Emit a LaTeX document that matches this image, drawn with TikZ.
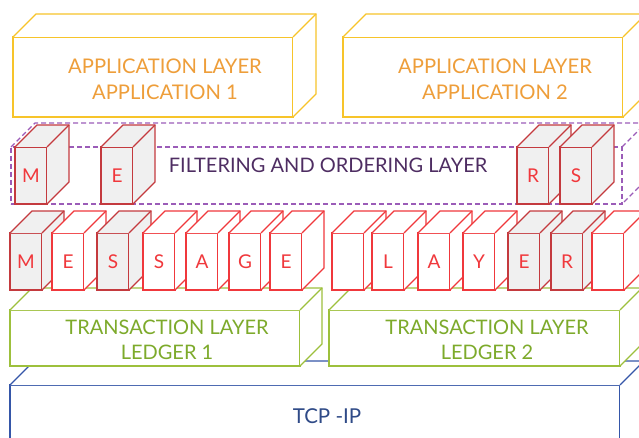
\documentclass[tikz,border=0pt]{standalone}
\usepackage{fontspec}
\setmainfont{Lato}
\usepackage{tikz}
\usetikzlibrary{positioning,shapes}
\usepackage{xcolor}

\definecolor{appline}{HTML}{F7C42A}
\definecolor{apptext}{HTML}{EE9E3A}
\definecolor{filterline}{HTML}{9B5CB8}
\definecolor{filtertext}{HTML}{4E2D62}
\definecolor{msgred}{HTML}{F0383C}
\definecolor{msgdark}{HTML}{C43A3E}
\definecolor{cubegray}{HTML}{F0F0F0}
\definecolor{transline}{HTML}{9DC03C}
\definecolor{transtext}{HTML}{7DAA2B}
\definecolor{tcpline}{HTML}{3556A8}
\definecolor{tcptext}{HTML}{2F4A87}

\tikzset{
  slab/.style={draw, fill=white, outer sep=0pt, inner sep=0pt, line width=1.2pt},
  appslab/.style={slab, draw=appline},
  transslab/.style={slab, draw=transline},
  tcpslab/.style={slab, draw=tcpline},
  filterslab/.style={slab, draw=filterline, fill=none, line width=1.3pt, dash pattern=on 5pt off 3pt},
  whitecube/.style={draw=msgred, fill=white, text=msgred, outer sep=0pt, inner sep=0pt,
    line width=1.2pt, minimum width=32pt, minimum height=57pt},
  graycube/.style={whitecube, draw=msgdark, fill=cubegray},
  label/.style={align=center, inner sep=0pt},
}

% front face as a named node, then top and side faces
\newcommand{\slabbox}[7]{% name, style, x, y, width, height, depth
  \node[#2, anchor=south west, minimum width=#5pt, minimum height=#6pt] (#1) at (#3,#4) {};
  \path[#2, draw=none] (#1.north west) -- ++(#7,#7) -- ++(#5,0) -- ++(0,-#6)
    -- (#1.south east) -- (#1.north east) -- cycle;
  \draw[#2, fill=none] (#1.north west) -- ++(#7,#7) -- ++(#5,0) -- ++(0,-#6) -- (#1.south east);
  \draw[#2, fill=none] (#1.north east) -- ++(#7,#7);
}
\newcommand{\msgcube}[5]{% name, style, x, y, letter
  \node[#2, anchor=south west, font=\fontsize{19}{19}\selectfont] (#1) at (#3,#4) {#5};
  \path[#2, draw=none] (#1.north west) -- ++(22,22) -- ++(32,0) -- ++(0,-57)
    -- (#1.south east) -- (#1.north east) -- cycle;
  \draw[#2, fill=none] (#1.north west) -- ++(22,22) -- ++(32,0) -- ++(0,-57) -- (#1.south east);
  \draw[#2, fill=none] (#1.north east) -- ++(22,22);
}

\begin{document}
\begin{tikzpicture}[x=1pt, y=1pt]
\useasboundingbox (0,0) rectangle (639,437);
\clip (0,0) rectangle (639,437);

% network
\slabbox{tcp}{tcpslab}{10}{-30}{610}{82}{24}
\node[label, text=tcptext, font=\fontsize{20.5}{24}\selectfont] (tcplabel) at (327,21) {TCP -IP};

% ledgers
\slabbox{ledger1}{transslab}{10}{71}{290}{56}{22}
\slabbox{ledger2}{transslab}{329}{71}{291}{56}{22}
\node[label, text=transtext, font=\fontsize{20}{25}\selectfont] (ledger1label) at (167,97.5) {TRANSACTION LAYER\\LEDGER 1};
\node[label, text=transtext, font=\fontsize{20}{25}\selectfont] (ledger2label) at (487,97.5) {TRANSACTION LAYER\\LEDGER 2};

% message stream
\msgcube{m1}{graycube}{10}{147}{M}
\msgcube{m2}{whitecube}{52}{147}{E}
\msgcube{m3}{graycube}{97}{147}{S}
\msgcube{m4}{whitecube}{143}{147}{S}
\msgcube{m5}{whitecube}{186}{147}{A}
\msgcube{m6}{whitecube}{229}{147}{G}
\msgcube{m7}{whitecube}{270}{147}{E}
\msgcube{m8}{whitecube}{332}{147}{}
\msgcube{m9}{whitecube}{372}{147}{L}
\msgcube{m10}{whitecube}{418}{147}{A}
\msgcube{m11}{whitecube}{463}{147}{Y}
\msgcube{m12}{graycube}{508}{147}{E}
\msgcube{m13}{graycube}{551}{147}{R}
\msgcube{m14}{whitecube}{592}{147}{}

% filtering
\slabbox{filter}{filterslab}{11}{233}{611}{57}{24}
\node[label, text=filtertext, font=\fontsize{20}{24}\selectfont] (filterlabel) at (328,272) {FILTERING AND ORDERING LAYER};
\msgcube{f1}{graycube}{15}{233}{M}
\msgcube{f2}{graycube}{101}{233}{E}
\msgcube{f3}{graycube}{517}{233}{R}
\msgcube{f4}{graycube}{560}{233}{S}

% applications
\slabbox{app1}{appslab}{13}{320}{280}{80}{23}
\slabbox{app2}{appslab}{343}{320}{280}{80}{23}
\node[label, text=apptext, font=\fontsize{20.2}{26}\selectfont] (app1label) at (165,358) {APPLICATION LAYER\\APPLICATION 1};
\node[label, text=apptext, font=\fontsize{20.2}{26}\selectfont] (app2label) at (495,358) {APPLICATION LAYER\\APPLICATION 2};
\end{tikzpicture}
\end{document}
